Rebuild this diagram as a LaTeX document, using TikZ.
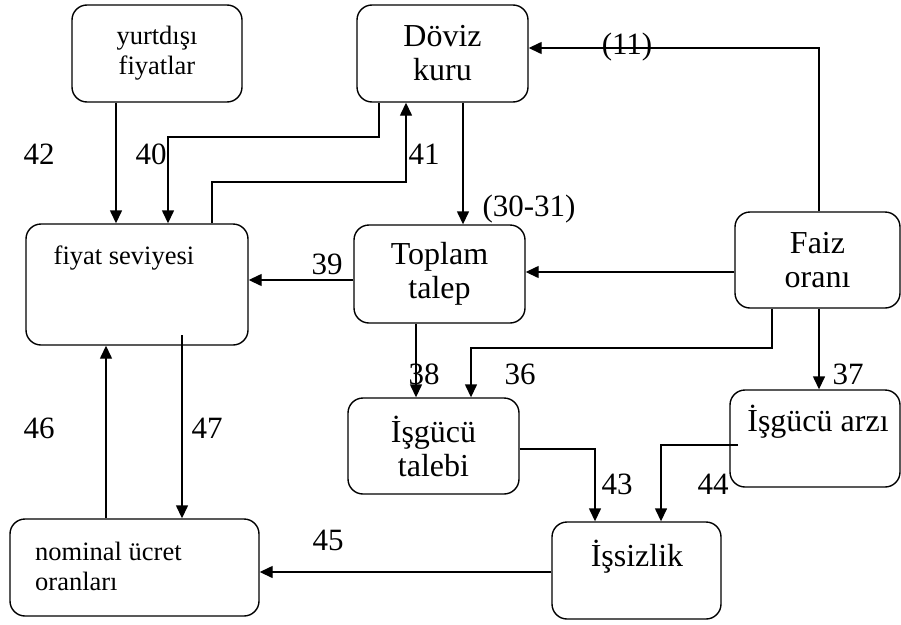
\documentclass[tikz,border=0pt]{standalone}
\usepackage{fontspec}
\setmainfont{Liberation Serif}
\usetikzlibrary{arrows.meta}
\begin{document}
\begin{tikzpicture}[x=1pt,y=-1pt,
  box/.style={draw, line width=1.4pt, rounded corners=15pt, inner sep=0pt, align=center},
  bigtxt/.style={font=\fontsize{32}{34}\selectfont},
  smalltxt/.style={font=\fontsize{26.5}{30}\selectfont},
  lbl/.style={inner sep=0pt, font=\fontsize{31}{33}\selectfont},
  txt/.style={inner sep=0pt},
  arr/.style={line width=1.4pt, -{Triangle[length=13pt,width=12pt]}}]
\useasboundingbox (0,0) rectangle (901,624);
% boxes
\node[box, smalltxt, minimum width=170pt, minimum height=97pt] (yurt) at (157,53.5) {yurtdışı\\fiyatlar};
\node[box, bigtxt, minimum width=171pt, minimum height=97pt] (doviz) at (442.5,53.5) {Döviz\\kuru};
\node[box, minimum width=222pt, minimum height=121pt] (fiyat) at (137,284.5) {};
\node[txt, smalltxt] (fiyattxt) at (124,258) {fiyat seviyesi};
\node[box, bigtxt, minimum width=171pt, minimum height=98pt] (toplam) at (439.5,274) {Toplam\\talep};
\node[box, bigtxt, minimum width=165pt, minimum height=96pt] (faiz) at (817.5,260) {Faiz\\oranı};
\node[box, bigtxt, minimum width=171pt, minimum height=96pt] (ital) at (433.5,446) {İşgücü\\talebi};
\node[box, minimum width=170pt, minimum height=97pt] (iarz) at (815,438.5) {};
\node[txt, bigtxt] (iarztxt) at (818,422) {İşgücü arzı};
\node[box, minimum width=169pt, minimum height=97pt] (issiz) at (636.5,570.5) {};
\node[txt, bigtxt] (issiztxt) at (637,557) {İşsizlik};
\node[box, minimum width=249pt, minimum height=97pt] (nominal) at (134.5,567.5) {};
\node[txt, smalltxt, align=left, anchor=west] (nomtxt) at (35,566) {nominal ücret\\oranları};
% connectors
\draw[arr] (116,0 |- yurt.south) -- (116,0 |- fiyat.north);
\draw[arr] (379,0 |- doviz.south) |- (168,137) -- (168,0 |- fiyat.north);
\draw[arr] (212,0 |- fiyat.north) |- (406,182) -- (406,0 |- doviz.south);
\draw[arr] (819,0 |- faiz.north) |- (doviz.east |- 0,48);
\draw[arr] (463,0 |- doviz.south) -- (463,0 |- toplam.north);
\draw[arr] (faiz.west |- 0,272) -- (toplam.east |- 0,272);
\draw[arr] (toplam.west |- 0,280) -- (fiyat.east |- 0,280);
\draw[arr] (416,0 |- toplam.south) -- (416,0 |- ital.north);
\draw[arr] (772,0 |- faiz.south) |- (471,348) -- (471,0 |- ital.north);
\draw[arr] (819,0 |- faiz.south) -- (819,0 |- iarz.north);
\draw[arr] (ital.east |- 0,449) -| (595,0 |- issiz.north);
\draw[arr] (738,445) -| (661,0 |- issiz.north);
\draw[arr] (issiz.west |- 0,572) -- (nominal.east |- 0,572);
\draw[arr] (106,0 |- nominal.north) -- (106,0 |- fiyat.south);
\draw[arr] (182,335) -- (182,0 |- nominal.north);
% labels
\node[lbl] (l42) at (39,154) {42};
\node[lbl] (l40) at (151,154) {40};
\node[lbl] (l41) at (424,154) {41};
\node[lbl] (l11) at (627,47) {(11)};
\node[lbl] (l3031) at (529,209) {(30-31)};
\node[lbl] (l39) at (327,264) {39};
\node[lbl] (l38) at (424,374) {38};
\node[lbl] (l36) at (520,374) {36};
\node[lbl] (l37) at (848,374) {37};
\node[lbl] (l43) at (617,484) {43};
\node[lbl] (l44) at (713,484) {44};
\node[lbl] (l45) at (328,540) {45};
\node[lbl] (l46) at (39,428) {46};
\node[lbl] (l47) at (207,428) {47};
\end{tikzpicture}
\end{document}
